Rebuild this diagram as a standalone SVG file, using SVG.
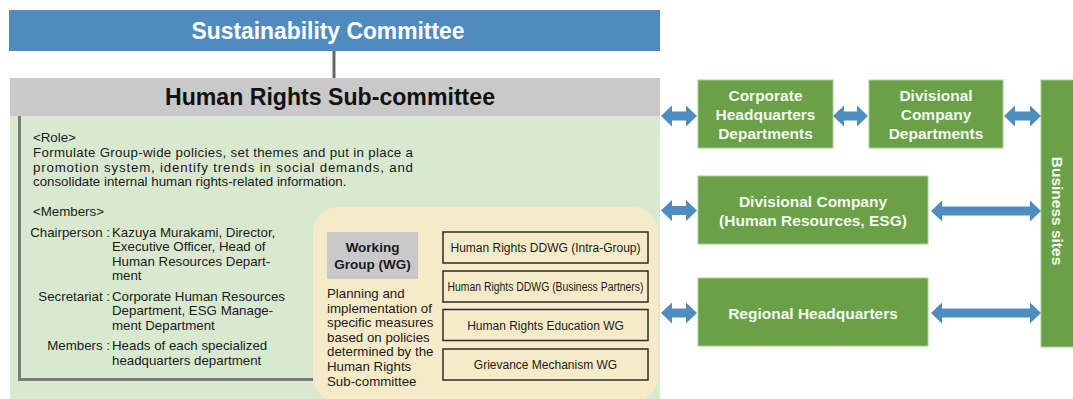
<svg xmlns="http://www.w3.org/2000/svg" width="1073" height="399" viewBox="0 0 1073 399">
<style>
text{font-family:"Liberation Sans",Arial,sans-serif;}
.title{font-size:23px;font-weight:bold;text-anchor:middle;}
.body{font-size:13.3px;fill:#1a1a1a;}
.lbl{font-size:13.3px;fill:#1a1a1a;text-anchor:end;}
.wg{font-size:12px;fill:#1a1a1a;text-anchor:middle;}
.gbox{fill:#6aa047;stroke:#a8cd8e;stroke-width:1;}
.gtxt{font-size:15.5px;font-weight:bold;fill:#f4f8ef;text-anchor:middle;}
.arrow{fill:#4f8cc0;}
.wgbox{fill:none;stroke:#2b2b2b;stroke-width:1.5;}
</style>
<rect width="1073" height="399" fill="#ffffff"/>

<g id="sustainability-committee">
<rect x="9" y="10" width="651" height="41" fill="#4f8bbf"/>
<text class="title" x="328" y="39" fill="#ffffff" textLength="273" lengthAdjust="spacingAndGlyphs">Sustainability Committee</text>
</g>

<g id="human-rights-subcommittee">
<rect x="10" y="116" width="650" height="283" fill="#d9e9d0"/>
<rect x="10" y="78" width="650" height="38" fill="#c9c9c9"/>
<text class="title" x="330" y="105" fill="#111111" textLength="330" lengthAdjust="spacingAndGlyphs">Human Rights Sub-committee</text>
<path d="M19.5 116 V379.5 H313" fill="none" stroke="#7a7a7a" stroke-width="3"/>
<text class="body" x="33" y="142">&lt;Role&gt;</text>
<text class="body" x="33" y="157" textLength="380" lengthAdjust="spacing">Formulate Group-wide policies, set themes and put in place a</text>
<text class="body" x="33" y="171.5" textLength="380" lengthAdjust="spacing">promotion system, identify trends in social demands, and</text>
<text class="body" x="33" y="186">consolidate internal human rights-related information.</text>
<text class="body" x="33" y="216">&lt;Members&gt;</text>
<text class="lbl" x="110" y="237">Chairperson :</text>
<text class="body" x="112" y="237">Kazuya Murakami, Director,</text>
<text class="body" x="112" y="251.3">Executive Officer, Head of</text>
<text class="body" x="112" y="265.6">Human Resources Depart-</text>
<text class="body" x="112" y="280">ment</text>
<text class="lbl" x="110" y="300.5">Secretariat :</text>
<text class="body" x="112" y="300.5">Corporate Human Resources</text>
<text class="body" x="112" y="315">Department, ESG Manage-</text>
<text class="body" x="112" y="329.5">ment Department</text>
<text class="lbl" x="110" y="349.5">Members :</text>
<text class="body" x="112" y="349.5">Heads of each specialized</text>
<text class="body" x="112" y="365">headquarters department</text>
</g>

<g id="working-group">
<rect x="313" y="207" width="345" height="195" rx="25" fill="#f6ebc8"/>
<rect x="327" y="232" width="91" height="47" fill="#c9c9c9"/>
<text x="372.5" y="252" font-size="13.5" font-weight="bold" fill="#1a1a1a" text-anchor="middle">Working</text>
<text x="372.5" y="269" font-size="13.5" font-weight="bold" fill="#1a1a1a" text-anchor="middle">Group (WG)</text>
<text class="body" x="327" y="298">Planning and</text>
<text class="body" x="327" y="312.6">implementation of</text>
<text class="body" x="327" y="327.2">specific measures</text>
<text class="body" x="327" y="341.8">based on policies</text>
<text class="body" x="327" y="356.4">determined by the</text>
<text class="body" x="327" y="371">Human Rights</text>
<text class="body" x="327" y="385.6">Sub-committee</text>
</g>

<g id="wg-intra-group">
<rect class="wgbox" x="443" y="232" width="205" height="31"/>
<text class="wg" x="545.5" y="252">Human Rights DDWG (Intra-Group)</text>
</g>
<g id="wg-business-partners">
<rect class="wgbox" x="443" y="271" width="205" height="31"/>
<text class="wg" x="545.5" y="291" textLength="196" lengthAdjust="spacingAndGlyphs">Human Rights DDWG (Business Partners)</text>
</g>
<g id="wg-education">
<rect class="wgbox" x="443" y="309.5" width="205" height="31"/>
<text class="wg" x="545.5" y="329.5">Human Rights Education WG</text>
</g>
<g id="wg-grievance">
<rect class="wgbox" x="443" y="349" width="205" height="31"/>
<text class="wg" x="545.5" y="369">Grievance Mechanism WG</text>
</g>

<g id="corporate-hq-departments">
<rect class="gbox" x="698" y="80" width="135" height="68"/>
<text class="gtxt" x="765.5" y="101">Corporate</text>
<text class="gtxt" x="765.5" y="120">Headquarters</text>
<text class="gtxt" x="765.5" y="139">Departments</text>
</g>
<g id="divisional-company-departments">
<rect class="gbox" x="869" y="80" width="134" height="68"/>
<text class="gtxt" x="936" y="101">Divisional</text>
<text class="gtxt" x="936" y="120">Company</text>
<text class="gtxt" x="936" y="139">Departments</text>
</g>
<g id="divisional-company-hr-esg">
<rect class="gbox" x="698" y="176" width="230" height="68"/>
<text class="gtxt" x="813" y="207">Divisional Company</text>
<text class="gtxt" x="813" y="226">(Human Resources, ESG)</text>
</g>
<g id="regional-headquarters">
<rect class="gbox" x="698" y="278" width="230" height="68"/>
<text class="gtxt" x="813" y="319">Regional Headquarters</text>
</g>
<g id="business-sites">
<rect class="gbox" x="1041" y="80" width="33" height="267"/>
<text class="gtxt" transform="translate(1052 211) rotate(90)" x="0" y="0">Business sites</text>
</g>

<g id="connectors">
<line x1="334" y1="51" x2="334" y2="78" stroke="#666666" stroke-width="3"/>
<path class="arrow" d="M661 116 L672 105.5 L672 111.5 L686 111.5 L686 105.5 L697 116 L686 126.5 L686 120.5 L672 120.5 L672 126.5 Z"/>
<path class="arrow" d="M833 116 L844 105.5 L844 111.5 L857 111.5 L857 105.5 L868 116 L857 126.5 L857 120.5 L844 120.5 L844 126.5 Z"/>
<path class="arrow" d="M1004 116 L1015 105.5 L1015 111.5 L1030 111.5 L1030 105.5 L1041 116 L1030 126.5 L1030 120.5 L1015 120.5 L1015 126.5 Z"/>
<path class="arrow" d="M661 210.5 L672 200 L672 206 L686 206 L686 200 L697 210.5 L686 221 L686 215 L672 215 L672 221 Z"/>
<path class="arrow" d="M931 211 L942 200.5 L942 206.5 L1030 206.5 L1030 200.5 L1041 211 L1030 221.5 L1030 215.5 L942 215.5 L942 221.5 Z"/>
<path class="arrow" d="M661 313 L672 302.5 L672 308.5 L686 308.5 L686 302.5 L697 313 L686 323.5 L686 317.5 L672 317.5 L672 323.5 Z"/>
<path class="arrow" d="M931 313 L942 302.5 L942 308.5 L1030 308.5 L1030 302.5 L1041 313 L1030 323.5 L1030 317.5 L942 317.5 L942 323.5 Z"/>
</g>
</svg>
